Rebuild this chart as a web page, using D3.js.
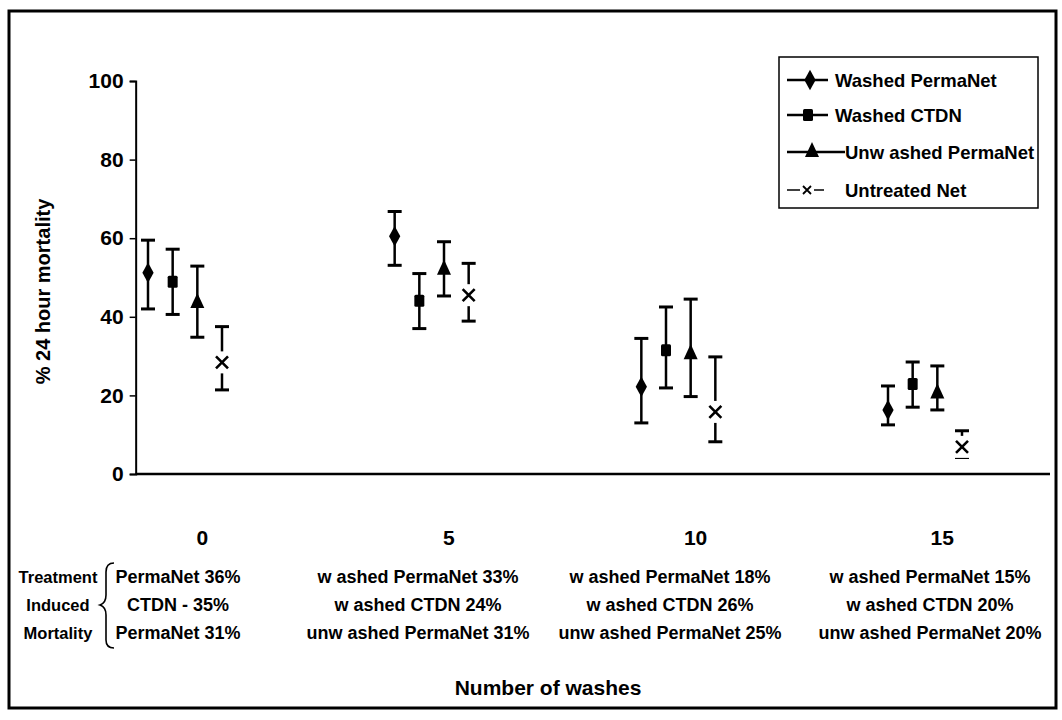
<!DOCTYPE html>
<html><head><meta charset="utf-8">
<script src="https://cdn.jsdelivr.net/npm/d3@7"></script>
<style>
html,body{margin:0;padding:0;background:#fff;}
svg text{font-family:"Liberation Sans",Arial,sans-serif;font-weight:bold;fill:#000;}
</style></head>
<body>
<svg id="chart" width="1062" height="720"></svg>
<script>
// ---- data ----
const washes = [0, 5, 10, 15];
const seriesNames = ["Washed PermaNet", "Washed CTDN", "Unw ashed PermaNet", "Untreated Net"];
const seriesSymbols = ["diamond", "square", "triangle", "cross"];
const washedPermaNetMean = [51.2, 60.5, 22.2, 16.3];
const washedPermaNetLow  = [42.0, 53.1, 13.0, 12.5];
const washedPermaNetHigh = [59.5, 66.8, 34.5, 22.4];
const washedCTDNMean = [48.9, 44.1, 31.5, 22.9];
const washedCTDNLow  = [40.6, 37.0, 21.9, 17.0];
const washedCTDNHigh = [57.2, 51.0, 42.5, 28.5];
const unwashedPermaNetMean = [43.5, 52.0, 30.5, 20.5];
const unwashedPermaNetLow  = [34.8, 45.3, 19.7, 16.3];
const unwashedPermaNetHigh = [52.9, 59.1, 44.5, 27.5];
const untreatedMean = [28.4, 45.5, 15.8, 6.9];
const untreatedLow  = [21.4, 38.9, 8.2, 4.2];
const untreatedHigh = [37.5, 53.6, 29.8, 11.0];
const yTicks = [0, 20, 40, 60, 80, 100];
const rowHeaders = ["Treatment", "Induced", "Mortality"];
const treatmentText = [
  ["PermaNet 36%", "CTDN - 35%", "PermaNet 31%"],
  ["w ashed PermaNet 33%", "w ashed CTDN 24%", "unw ashed PermaNet 31%"],
  ["w ashed PermaNet 18%", "w ashed CTDN 26%", "unw ashed PermaNet 25%"],
  ["w ashed PermaNet 15%", "w ashed CTDN 20%", "unw ashed PermaNet 20%"]
];
const yTitle = "% 24 hour mortality";
const xTitle = "Number of washes";

const series = [
  {mean: washedPermaNetMean, low: washedPermaNetLow, high: washedPermaNetHigh},
  {mean: washedCTDNMean, low: washedCTDNLow, high: washedCTDNHigh},
  {mean: unwashedPermaNetMean, low: unwashedPermaNetLow, high: unwashedPermaNetHigh},
  {mean: untreatedMean, low: untreatedLow, high: untreatedHigh}
].map((s, i) => Object.assign(s, {name: seriesNames[i], symbol: seriesSymbols[i]}));
const offsets = [-0.75, -0.25, 0.25, 0.75];

// ---- layout ----
const svg = d3.select("#chart");
const x = d3.scaleLinear().domain([0, 15]).range([185, 925]);
const y = d3.scaleLinear().domain([0, 100]).range([474, 81]);
const xLeft = x(-1), xRight = 1050;

// outer frame
svg.append("rect").attr("x", 9).attr("y", 11).attr("width", 1047).attr("height", 697)
  .attr("fill", "none").attr("stroke", "#000").attr("stroke-width", 3);

// y axis
const yAxis = d3.axisLeft(y).tickValues(yTicks).tickSize(6).tickPadding(6);
const gy = svg.append("g").attr("transform", `translate(${xLeft},0)`).call(yAxis);
gy.select(".domain").attr("stroke-width", 2);
gy.selectAll(".tick line").attr("stroke-width", 1.5);
gy.selectAll(".tick text").attr("font-size", 21).attr("font-family", "Liberation Sans, Arial, sans-serif").attr("font-weight", "bold");

// x axis line
svg.append("line").attr("x1", xLeft).attr("x2", xRight).attr("y1", y(0)).attr("y2", y(0))
  .attr("stroke", "#000").attr("stroke-width", 2.5);
// x tick labels
svg.selectAll(".xlab").data(washes).enter().append("text")
  .attr("x", d => x(d + 0.35)).attr("y", 545).attr("text-anchor", "middle").attr("font-size", 21)
  .text(d => d);

// titles
svg.append("text").attr("transform", `translate(50,${(y(0)+y(100))/2 + 14}) rotate(-90)`)
  .attr("text-anchor", "middle").attr("font-size", 20).text(yTitle);
svg.append("text").attr("x", 548).attr("y", 695).attr("text-anchor", "middle")
  .attr("font-size", 21).text(xTitle);

// symbols
function drawSymbol(g, type, cx, cy) {
  if (type === "diamond") {
    g.append("path").attr("d", d3.symbol(d3.symbolDiamond, 110)()).attr("transform", `translate(${cx},${cy}) scale(1,1.05)`).attr("fill", "#000");
  } else if (type === "square") {
    g.append("rect").attr("x", cx - 5).attr("y", cy - 6).attr("width", 10).attr("height", 12).attr("rx", 1.5).attr("fill", "#000");
  } else if (type === "triangle") {
    g.append("path").attr("d", d3.symbol(d3.symbolTriangle, 85)()).attr("transform", `translate(${cx},${cy}) scale(1,1.25)`).attr("fill", "#000");
  } else {
    g.append("rect").attr("x", cx - 8).attr("y", cy - 11).attr("width", 16).attr("height", 22).attr("fill", "#fff");
    g.append("path").attr("d", `M${cx-6},${cy-6}L${cx+6},${cy+6}M${cx+6},${cy-6}L${cx-6},${cy+6}`)
      .attr("stroke", "#000").attr("stroke-width", 2.6).attr("fill", "none");
  }
}

// error bars and points
series.forEach((s, i) => {
  const g = svg.append("g");
  washes.forEach((w, j) => {
    const cx = x(w + offsets[i]);
    g.append("line").attr("x1", cx).attr("x2", cx).attr("y1", y(s.low[j])).attr("y2", y(s.high[j]))
      .attr("stroke", "#000").attr("stroke-width", 2.5);
    [s.low[j], s.high[j]].forEach(v => {
      g.append("line").attr("x1", cx - 7).attr("x2", cx + 7).attr("y1", y(v)).attr("y2", y(v))
        .attr("stroke", "#000").attr("stroke-width", 3);
    });
    drawSymbol(g, s.symbol, cx, y(s.mean[j]));
  });
});

// legend
const lg = svg.append("g");
lg.append("rect").attr("x", 779).attr("y", 57).attr("width", 259).attr("height", 151)
  .attr("fill", "#fff").attr("stroke", "#000").attr("stroke-width", 1.5);
const legY = [80, 115, 152, 190];
const legLine = [[787, 828, 810, 835], [787, 828, 808, 835], [787, 845, 812, 845], [787, 824, 807, 845]];
series.forEach((s, i) => {
  const [x1, x2, mx, tx] = legLine[i];
  if (s.symbol === "cross") {
    lg.append("line").attr("x1", x1).attr("x2", mx - 7).attr("y1", legY[i]).attr("y2", legY[i]).attr("stroke", "#000").attr("stroke-width", 1.5);
    lg.append("line").attr("x1", mx + 7).attr("x2", x2).attr("y1", legY[i]).attr("y2", legY[i]).attr("stroke", "#000").attr("stroke-width", 1.5);
    lg.append("path").attr("d", `M${mx-4},${legY[i]-4}L${mx+4},${legY[i]+4}M${mx+4},${legY[i]-4}L${mx-4},${legY[i]+4}`)
      .attr("stroke", "#000").attr("stroke-width", 1.8);
  } else {
    lg.append("line").attr("x1", x1).attr("x2", x2).attr("y1", legY[i]).attr("y2", legY[i]).attr("stroke", "#000").attr("stroke-width", 2.5);
    drawSymbol(lg, s.symbol, mx, legY[i]);
  }
  lg.append("text").attr("x", tx).attr("y", legY[i] + 7).attr("font-size", 18.5).text(s.name);
});

// treatment induced mortality table
const rowY = [583, 611, 639];
svg.selectAll(".rh").data(rowHeaders).enter().append("text")
  .attr("x", 58).attr("y", (d, i) => rowY[i]).attr("text-anchor", "middle").attr("font-size", 16.5).text(d => d);
svg.append("path")
  .attr("d", "M114,563 Q106,563 106,572 L106,595 Q106,603 100,605 Q106,607 106,615 L106,640 Q106,648 114,648")
  .attr("fill", "none").attr("stroke", "#000").attr("stroke-width", 1.6);
const colX = [178, 418, 670, 930];
treatmentText.forEach((col, c) => {
  col.forEach((t, r) => {
    svg.append("text").attr("x", colX[c]).attr("y", rowY[r]).attr("text-anchor", "middle")
      .attr("font-size", 18).text(t);
  });
});
</script>
</body></html>
